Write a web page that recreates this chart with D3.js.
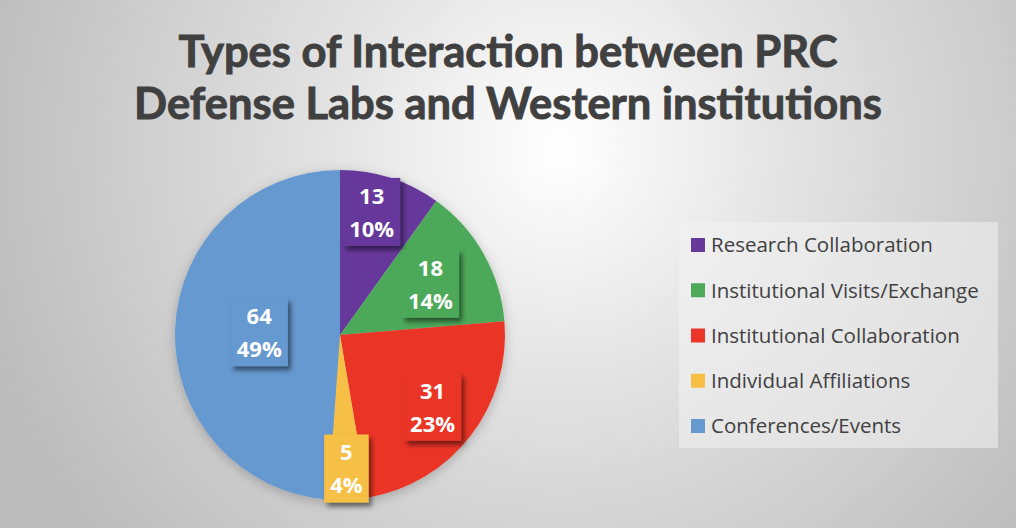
<!DOCTYPE html>
<html>
<head>
<meta charset="utf-8">
<script src="https://cdn.jsdelivr.net/npm/d3@7"></script>
<style>
  html, body { margin: 0; padding: 0; overflow: hidden; }
  body { width: 1016px; height: 528px; }
</style>
</head>
<body>
<div id="container"></div>
<script>
// chart data
const categories = ["Research Collaboration", "Institutional Visits/Exchange", "Institutional Collaboration", "Individual Affiliations", "Conferences/Events"];
const counts = [13, 18, 31, 5, 64];
const percentLabels = ["10%", "14%", "23%", "4%", "49%"];
const titleLines = ["Types of Interaction between PRC", "Defense Labs and Western institutions"];

const colors = ["#66399b", "#4ea95a", "#ea3528", "#f6bf44", "#6699d0"];
// how far out each data label sits (fraction of radius), like Excel's best fit
const labelRadius = [0.77, 0.63, 0.71, 0.81, 0.49];

const width = 1016;
const height = 528;
const cx = 340, cy = 335, radius = 165;

const svg = d3.create("svg")
    .attr("width", width)
    .attr("height", height)
    .attr("viewBox", [0, 0, width, height]);

const defs = svg.append("defs");

const bg = defs.append("radialGradient")
    .attr("id", "bg")
    .attr("gradientUnits", "userSpaceOnUse")
    .attr("cx", 560).attr("cy", 150).attr("r", 600);
bg.append("stop").attr("offset", "0%").attr("stop-color", "#ffffff");
bg.append("stop").attr("offset", "40%").attr("stop-color", "#e2e2e2");
bg.append("stop").attr("offset", "100%").attr("stop-color", "#bcbcbc");

defs.append("filter").attr("id", "boxShadow")
    .attr("x", "-30%").attr("y", "-30%").attr("width", "160%").attr("height", "160%")
  .append("feDropShadow")
    .attr("dx", 3).attr("dy", 4).attr("stdDeviation", 2.5)
    .attr("flood-color", "#000").attr("flood-opacity", 0.5);

defs.append("filter").attr("id", "pieShadow")
    .attr("x", "-20%").attr("y", "-20%").attr("width", "140%").attr("height", "140%")
  .append("feDropShadow")
    .attr("dx", 0).attr("dy", 3).attr("stdDeviation", 6)
    .attr("flood-color", "#000").attr("flood-opacity", 0.22);

svg.append("rect")
    .attr("width", width)
    .attr("height", height)
    .attr("fill", "url(#bg)");

// title
const title = svg.append("g")
    .attr("font-family", "Lato, 'Open Sans', sans-serif")
    .attr("font-weight", "bold")
    .attr("fill", "#404040")
    .attr("stroke", "#404040")
    .attr("stroke-width", 0.9)
    .attr("text-anchor", "middle");

const titleText = title.selectAll("text")
    .data(titleLines)
    .join("text")
    .attr("x", 508)
    .attr("y", (d, i) => 67 + i * 52)
    .attr("font-size", 44)
    .text(d => d);

container.append(svg.node());

// fit title to the reference width of the second line
const w2 = titleText.nodes()[1].getComputedTextLength();
titleText.attr("font-size", 44 * 748 / w2);

// pie
const pie = d3.pie().sort(null).value(d => d)(counts);
const arc = d3.arc().innerRadius(0).outerRadius(radius);

const pieG = svg.append("g")
    .attr("transform", `translate(${cx},${cy})`);

pieG.append("g")
    .attr("filter", "url(#pieShadow)")
    .selectAll("path")
    .data(pie)
    .join("path")
    .attr("d", arc)
    .attr("fill", (d, i) => colors[i]);

// data labels
const labels = pieG.append("g")
    .attr("font-family", "'Open Sans', Lato, sans-serif")
    .attr("font-weight", "bold")
    .attr("font-size", 22)
    .selectAll("g")
    .data(pie)
    .join("g")
    .attr("transform", (d, i) => {
        const r = radius * labelRadius[i];
        const a = (d.startAngle + d.endAngle) / 2 - (i === 0 ? 0.06 : 0);
        return `translate(${r * Math.sin(a)},${-r * Math.cos(a)})`;
    });

labels.append("rect")
    .attr("fill", (d, i) => colors[i])
    .attr("filter", "url(#boxShadow)");

labels.append("text")
    .attr("text-anchor", "middle")
    .attr("fill", "#ffffff")
    .selectAll("tspan")
    .data((d, i) => [String(counts[i]), percentLabels[i]])
    .join("tspan")
    .attr("x", 0)
    .attr("y", (d, i) => i === 0 ? -8 : 25)
    .text(d => d);

labels.each(function() {
    const g = d3.select(this);
    const tw = g.select("text").node().getBBox().width;
    const bw = tw + 12;
    g.select("rect")
        .attr("x", -bw / 2)
        .attr("y", -34)
        .attr("width", bw)
        .attr("height", 68);
});

// legend
const legend = svg.append("g")
    .attr("font-family", "'Open Sans', Lato, sans-serif")
    .attr("font-size", 20.5)
    .attr("fill", "#404040");

legend.append("rect")
    .attr("x", 679)
    .attr("y", 222)
    .attr("width", 319)
    .attr("height", 226)
    .attr("fill", "#f2f2f2")
    .attr("fill-opacity", 0.55);

const legendY = d3.scalePoint()
    .domain(categories)
    .range([245, 426]);

const item = legend.selectAll("g")
    .data(categories)
    .join("g")
    .attr("transform", d => `translate(691,${legendY(d)})`);

item.append("rect")
    .attr("x", 0)
    .attr("y", -7)
    .attr("width", 14)
    .attr("height", 14)
    .attr("fill", (d, i) => colors[i]);

item.append("text")
    .attr("x", 20)
    .attr("dy", "0.36em")
    .text(d => d);
</script>
</body>
</html>
